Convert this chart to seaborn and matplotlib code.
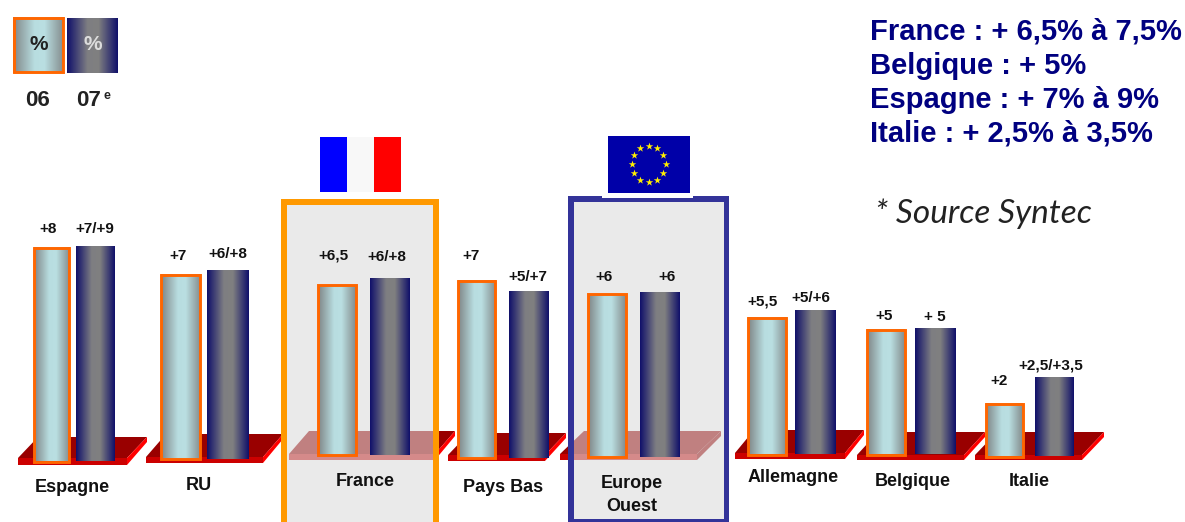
import numpy as np
import pandas as pd
import seaborn as sns
import matplotlib
matplotlib.use("Agg")
import matplotlib.pyplot as plt
from matplotlib.colors import LinearSegmentedColormap
from matplotlib.patches import Polygon, Rectangle

sns.set_theme(style="white")
plt.rcParams["font.family"] = ["Liberation Sans", "DejaVu Sans"]

# data
pays = ["Espagne", "RU", "France", "Pays Bas", "Europe Ouest", "Allemagne", "Belgique", "Italie"]
hausse_06 = [8.1, 7.0, 6.45, 6.75, 6.2, 5.2, 4.75, 2.05]
hausse_07 = [8.1, 7.1, 6.65, 6.3, 6.2, 5.4, 4.75, 2.95]
labels_06 = ["+8", "+7", "+6,5", "+7", "+6", "+5,5", "+5", "+2"]
labels_07 = ["+7/+9", "+6/+8", "+6/+8", "+5/+7", "+6", "+5/+6", "+ 5", "+2,5/+3,5"]
noms = ["Espagne", "RU", "France", "Pays Bas", "Europe\nOuest", "Allemagne", "Belgique", "Italie"]
previsions = ["France : + 6,5% à 7,5%", "Belgique : + 5%", "Espagne : + 7% à 9%", "Italie : + 2,5% à 3,5%"]

# layout, in pixels of the 1185x522 picture
W, H = 1185, 522
PX_PAR_POINT = 26.5
centre_06 = [51.5, 180.5, 337, 476.5, 607, 767, 886, 1004.5]
centre_07 = [95.5, 228, 390, 529, 659.5, 815, 935.5, 1054]
base = [461.5, 459, 455, 458, 457, 454.5, 454.5, 456.5]
larg = [38.5, 42, 40, 40, 40, 41, 40.5, 39]
y_lab_06 = [229, 256, 256, 256, 277, 301, 316, 381]
y_lab_07 = [229, 254, 257, 277, 277, 298, 317, 365]
x_lab_06 = [48, 178, 333, 471, 604, 763, 884, 999]
x_lab_07 = [95, 228, 387, 528, 667, 811, 935, 1051]
x_nom = [72, 199, 365, 503, 632, 793, 913, 1029]
y_nom = [488, 486, 482, 487, 495, 478, 481, 482]
# left, right of front edge, shift of back edge, back y, strip top, strip bottom
plateaux = [(18, 127, 20, 437, 458, 465), (146, 263, 20, 434, 457, 463),
            (289, 435, 20, 431, 454, 460), (448, 545, 21, 433, 455, 461),
            (560, 697, 24, 431, 454, 460), (735, 845, 19, 430, 453, 459),
            (857, 964, 21, 432, 455, 460), (975, 1082, 22, 432, 455, 460)]

cmap_06 = LinearSegmentedColormap.from_list("c06", [(0, "#7F8586"), (0.42, "#B8DDE0"), (0.62, "#BADFE2"), (1, "#838B8C")])
cmap_07 = LinearSegmentedColormap.from_list("c07", [(0, "#10106A"), (0.4, "#7E7E82"), (0.62, "#808080"), (1, "#10106A")])
degrade = np.linspace(0, 1, 128).reshape(1, -1)

fig = plt.figure(figsize=(W / 100, H / 100), dpi=100, facecolor="white")
fond = fig.add_axes([0, 0, 1, 1], zorder=0)
fond.set_xlim(0, W)
fond.set_ylim(H, 0)
fond.axis("off")


def plateau(ax, p, dessus, bande, cote, clip=None):
    g, d, dx, yb, y1, y2 = p
    arts = [Polygon([(g, y1), (g + dx, yb), (d + dx, yb), (d, y1)], fc=dessus, ec="none"),
            Polygon([(d, y1), (d + dx, yb), (d + dx, yb + 5), (d, y2)], fc=cote, ec="none"),
            Rectangle((g, y1), d - g, y2 - y1, fc=bande, ec="none")]
    for a in arts:
        ax.add_patch(a)
        if clip is not None:
            a.set_clip_path(clip)


for p in plateaux:
    plateau(fond, p, "#990000", "#CC0000", "#FF0000")

# highlighted boxes for France and Europe, the orange one has no bottom side
for x0, x1, y0, y1, ep, coul, p, fermee in [(281, 439, 199, H, 6, "#FF9900", plateaux[2], False),
                                            (568, 729, 196, H, 5.5, "#333399", plateaux[4], True)]:
    inner = Rectangle((x0, y0), x1 - x0, y1 - y0, fc="#EAEAEA", ec="none")
    fond.add_patch(inner)
    clip = Rectangle((x0, y0), x1 - x0, y1 - y0, transform=fond.transData)
    plateau(fond, p, "#C08080", "#D58A8A", "#C08080", clip)
    fond.add_patch(Rectangle((x0, y0), ep, y1 - y0, fc=coul, ec="none"))
    fond.add_patch(Rectangle((x1 - ep, y0), ep, y1 - y0, fc=coul, ec="none"))
    fond.add_patch(Rectangle((x0, y0), x1 - x0, ep, fc=coul, ec="none"))
    if fermee:
        fond.add_patch(Rectangle((x0, y1 - 3.5), x1 - x0, 3.5, fc=coul, ec="none"))
fond.add_patch(Rectangle((602, 194.5), 91, 3, fc="white", ec="none"))

# flags
fond.add_patch(Rectangle((319.5, 136.5), 27, 55.5, fc="#0000FF", ec="none"))
fond.add_patch(Rectangle((346.5, 136.5), 27, 55.5, fc="#F8F8F8", ec="none"))
fond.add_patch(Rectangle((373.5, 136.5), 27.5, 55.5, fc="#FF0000", ec="none"))
fond.add_patch(Rectangle((608, 135.5), 81.5, 57, fc="#0000A8", ec="none"))
ang = np.arange(12) * np.pi / 6
fond.scatter(648.5 + 17 * np.cos(ang), 164 + 18 * np.sin(ang), marker="*", s=32, color="#FFEE00", linewidths=0)

# one small axes per country, all on the same vertical scale
df = pd.DataFrame({"pays": pays * 2,
                   "annee": ["06"] * 8 + ["07"] * 8,
                   "hausse": hausse_06 + hausse_07})
YMAX = 10
for i, nom in enumerate(pays):
    slot = centre_07[i] - centre_06[i]
    x0 = centre_06[i] - slot / 2
    ax = fig.add_axes([x0 / W, (H - base[i]) / H, 2 * slot / W, YMAX * PX_PAR_POINT / H], zorder=1)
    sns.barplot(data=df[df["pays"] == nom], x="pays", y="hausse", hue="annee", hue_order=["06", "07"],
                width=1, gap=1 - larg[i] / slot, palette=["#BADFE2", "#808080"], legend=False, ax=ax)
    for cont, cmap in zip(ax.containers, [cmap_06, cmap_07]):
        bar = cont[0]
        if cmap is cmap_06:
            # pull the outline in so its outer edge sits where the bar ends
            d = 1.4 / (2 * slot)
            bar.set_x(bar.get_x() + d)
            bar.set_width(bar.get_width() - 2 * d)
            bar.set_height(bar.get_height() - 1.4 / PX_PAR_POINT)
            bar.set_edgecolor("#FF6600")
            bar.set_linewidth(2.1)
            bar.set_clip_on(False)
        else:
            bar.set_edgecolor("none")
        xb, wb, hb = bar.get_x(), bar.get_width(), bar.get_height()
        im = ax.imshow(degrade, cmap=cmap, aspect="auto", extent=(xb, xb + wb, 0, hb), zorder=2)
        bar.set_facecolor("none")
        bar.set_zorder(3)
        bar.set_snap(True)
    ax.set_xlim(-0.5, 0.5)
    ax.set_ylim(0, YMAX)
    ax.axis("off")
    ax.patch.set_alpha(0)

    fond.text(x_lab_06[i], y_lab_06[i], labels_06[i], ha="center", va="center", fontsize=11, fontweight="bold", color="#111111")
    fond.text(x_lab_07[i], y_lab_07[i], labels_07[i], ha="center", va="center", fontsize=11, fontweight="bold", color="#111111")
    fond.text(x_nom[i], y_nom[i], noms[i], ha="center", va="center", fontsize=13, fontweight="bold", color="#111111", linespacing=1.45)

# legend swatches
leg = fig.add_axes([0, 0, 1, 1], zorder=2)
leg.set_xlim(0, W)
leg.set_ylim(H, 0)
leg.axis("off")
for x0, x1, y0, y1, cmap, coul, ec in [(13, 64, 17, 73, cmap_06, "#222222", "#FF6600"), (67, 118, 18, 73, cmap_07, "#DDDDDD", "none")]:
    leg.imshow(degrade, cmap=cmap, aspect="auto", extent=(x0, x1, y1, y0))
    if ec != "none":
        leg.add_patch(Rectangle((x0 + 1, y0 + 1), x1 - x0 - 2, y1 - y0 - 2, fc="none", ec=ec, lw=2.1))
    leg.text((x0 + x1) / 2, 44, "%", ha="center", va="center", fontsize=15, fontweight="bold", color=coul)
leg.set_xlim(0, W)
leg.set_ylim(H, 0)
leg.text(38, 101, "06", ha="center", va="center", fontsize=16, fontweight="bold", color="#222222")
leg.text(89, 101, "07", ha="center", va="center", fontsize=16, fontweight="bold", color="#222222")
leg.text(107, 96, "e", ha="center", va="center", fontsize=9, fontweight="bold", color="#222222")

# forecasts at the top right
for y, ligne in zip([32, 66, 100, 134], previsions):
    leg.text(870, y, ligne, ha="left", va="center", fontsize=21, fontweight="bold", color="#000080")
leg.text(875, 214, "* Source Syntec", ha="left", va="center", fontsize=24, family="Lato", style="italic", color="#222222")

fig.savefig("out.png", dpi=100, facecolor="white")
